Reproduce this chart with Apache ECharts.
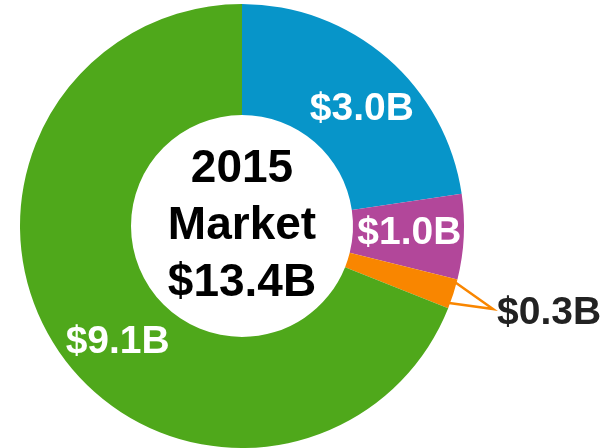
<!DOCTYPE html>
<html>
<head>
<meta charset="utf-8">
<script src="https://cdn.jsdelivr.net/npm/echarts@6/dist/echarts.min.js"></script>
<style>
html,body{margin:0;padding:0;background:#fff;}
#chart{width:611px;height:448px;}
</style>
</head>
<body>
<div id="chart"></div>
<script>
// Segment names, label texts and slice sizes (in $B, as drawn)
const segments = ['Segment A', 'Segment B', 'Segment C', 'Segment D'];
const labelTexts = ['$3.0B', '$1.0B', '$0.3B', '$9.1B'];
const sliceValues = [3.04, 0.83, 0.29, 9.24];
const colors = ['#0795C9', '#B2479A', '#F98600', '#4FA81B'];
const centerTitle = ['2015', 'Market', '$13.4B'];

const CX = 242, CY = 226, R0 = 111, R1 = 222;
// label nudges (dx, dy) for inside labels
const nudges = [[9, 11], [-2, -1], [0, 0], [16, 21]];
const calloutTip = [493, 309];
const calloutLabel = [497, 313];

const total = sliceValues.reduce((a, b) => a + b, 0);
function boundaryAngles(i) {
  let start = 90;
  for (let k = 0; k < i; k++) start -= sliceValues[k] / total * 360;
  const end = start - sliceValues[i] / total * 360;
  return [start, end];
}
function pt(angleDeg, r) {
  const a = angleDeg * Math.PI / 180;
  return [CX + r * Math.cos(a), CY - r * Math.sin(a)];
}

const data = segments.map((name, i) => {
  const item = { name: name, value: sliceValues[i], itemStyle: { color: colors[i] } };
  if (i === 2) {
    item.label = { position: 'outside', color: '#222222' };
    item.labelLine = { show: true, lineStyle: { color: colors[i], width: 2.5 } };
  }
  return item;
});

const chart = echarts.init(document.getElementById('chart'), null, { renderer: 'canvas' });
chart.setOption({
  animation: false,
  backgroundColor: '#ffffff',
  graphic: [{
    type: 'text',
    x: CX, y: CY,
    style: {
      text: centerTitle.join('\n'),
      font: 'bold 46px "Liberation Sans", Arial, sans-serif',
      lineHeight: 57,
      fill: '#000000',
      align: 'center',
      verticalAlign: 'middle'
    },
    z: 10
  }],
  series: [{
    type: 'pie',
    center: [CX, CY],
    radius: [R0, R1],
    startAngle: 90,
    clockwise: true,
    avoidLabelOverlap: false,
    silent: true,
    itemStyle: { borderWidth: 0 },
    label: {
      show: true,
      position: 'inside',
      formatter: p => labelTexts[p.dataIndex],
      color: '#ffffff',
      fontFamily: '"Liberation Sans", Arial, sans-serif',
      fontWeight: 'bold',
      fontSize: 39
    },
    labelLine: { show: false },
    labelLayout: function (p) {
      const i = p.dataIndex;
      if (i === 2) {
        const [a0, a1] = boundaryAngles(i);
        return {
          x: calloutLabel[0], y: calloutLabel[1],
          align: 'left', verticalAlign: 'middle',
          labelLinePoints: [pt(a0 - 0.8, R1 - 2), calloutTip, pt(a1 + 1.4, R1 - 1)]
        };
      }
      return { dx: nudges[i][0], dy: nudges[i][1] };
    },
    data: data
  }]
});
</script>
</body>
</html>
